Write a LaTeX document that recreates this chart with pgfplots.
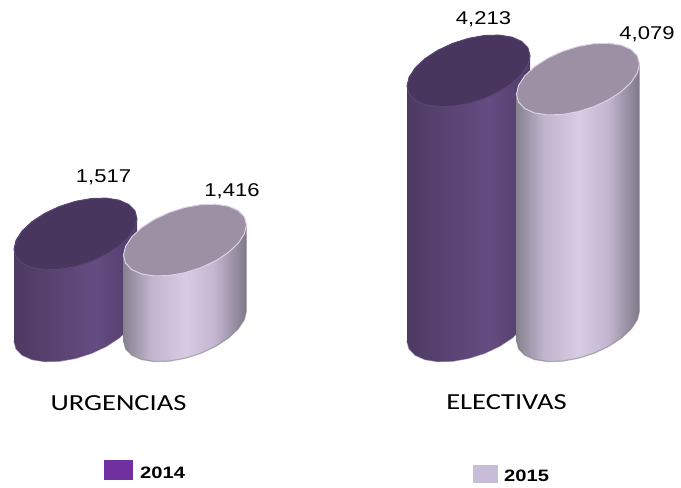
\documentclass[border=0pt]{standalone}
\usepackage{pgfplots}
\usepackage{pgfplotstable}
\usepackage{fontspec}
\pgfplotsset{compat=1.18}
\setmainfont{Liberation Sans}
\newfontfamily\vallab[FakeStretch=1.19]{Liberation Sans}
\newfontfamily\leglab[FakeStretch=1.22]{Liberation Sans}
\newfontfamily\catlab[FakeStretch=1.24]{Carlito}
\definecolor{leg14}{HTML}{7030A0}
\definecolor{leg15}{HTML}{C7BDD9}
\definecolor{cap14}{HTML}{48365E}
\definecolor{rim14}{HTML}{5B4676}
\definecolor{cap15}{HTML}{9C91A4}
\definecolor{rim15}{HTML}{DCD2E6}
\definecolor{pa}{HTML}{4D3A62}
\definecolor{pb}{HTML}{654C82}
\definecolor{pc}{HTML}{503C68}
\definecolor{la}{HTML}{87828F}
\definecolor{lb}{HTML}{C0B4CC}
\definecolor{lc}{HTML}{D8CBE4}
\definecolor{ld}{HTML}{C4B6D0}
\definecolor{le}{HTML}{7D7888}
\pgfdeclarehorizontalshading{bar14}{100bp}{
 color(0bp)=(pa); color(25bp)=(pa);
 color(58bp)=(pb);
 color(75bp)=(pc); color(100bp)=(pc)}
\pgfdeclarehorizontalshading{bar15}{100bp}{
 color(0bp)=(la); color(25bp)=(la);
 color(36bp)=(lb); color(50bp)=(lc);
 color(62bp)=(ld); color(75bp)=(le);
 color(100bp)=(le)}
\pgfplotstableread{
dx dy
61.5 15.21
59.40 23.14
53.26 29.49
43.49 33.83
30.75 35.86
15.92 35.45
0 32.63
-15.92 27.58
-30.75 20.65
-43.49 12.31
-53.26 3.14
-59.40 -6.25
-61.5 -15.21
-59.40 -23.14
-53.26 -29.49
-43.49 -33.83
-30.75 -35.86
-15.92 -35.45
0 -32.63
15.92 -27.58
30.75 -20.65
43.49 -12.31
53.26 -3.14
59.40 6.25
61.5 15.21
}\capshape
\pgfplotstableread{
dx dy h
61.5 15.21 1
59.40 23.14 1
53.26 29.49 1
43.49 33.83 1
30.75 35.86 1
15.92 35.45 1
0 32.63 1
-15.92 27.58 1
-30.75 20.65 1
-43.49 12.31 1
-53.26 3.14 1
-59.40 -6.25 1
-61.5 -15.21 1
-61.5 -15.21 0
-59.40 -23.14 0
-53.26 -29.49 0
-43.49 -33.83 0
-30.75 -35.86 0
-15.92 -35.45 0
0 -32.63 0
15.92 -27.58 0
30.75 -20.65 0
43.49 -12.31 0
53.26 -3.14 0
59.40 6.25 0
61.5 15.21 0
61.5 15.21 1
}\bodyshape
\newcommand\cyl[6]{%
 \addplot[draw=none,shading=#3,shading angle=0] table[x expr=\thisrow{dx}+#1,y expr=\thisrow{h}*#2+\thisrow{dy}*16.54]{\bodyshape};
 \addplot[draw=#4,line width=1.2pt,opacity=0.55] table[x expr=\thisrow{dx}+#1,y expr=\thisrow{h}*#2+\thisrow{dy}*16.54,restrict expr to domain={\thisrow{h}}{0:0}]{\bodyshape};
 \addplot[fill=#5,draw=#6,line width=1pt] table[x expr=\thisrow{dx}+#1,y expr=#2+\thisrow{dy}*16.54]{\capshape};
}
\begin{document}
\begin{tikzpicture}
\begin{axis}[
  scale only axis,width=681pt,height=487pt,
  xmin=0,xmax=681,ymin=-2668,ymax=5387,
  hide axis,clip=false,
  /pgf/number format/.cd,1000 sep={,},assume math mode=true,
]
\path (rel axis cs:0,0) rectangle (rel axis cs:1,1);
\cyl{75.5}{1517}{bar14}{rim14}{cap14}{rim14}
\cyl{185}{1416}{bar15}{gray}{cap15}{rim15}
\cyl{468.5}{4213}{bar14}{rim14}{cap14}{rim14}
\cyl{578}{4079}{bar15}{gray}{cap15}{rim15}
\addplot[draw=none,nodes near coords,nodes near coords style={font=\vallab\fontsize{18.5}{20}\selectfont,anchor=center,xshift=28pt,yshift=57pt}] coordinates {(75.5,1517)};
\addplot[draw=none,nodes near coords,nodes near coords style={font=\vallab\fontsize{18.5}{20}\selectfont,anchor=center,xshift=47pt,yshift=49pt}] coordinates {(185,1416)};
\addplot[draw=none,nodes near coords,nodes near coords style={font=\vallab\fontsize{18.5}{20}\selectfont,anchor=center,xshift=15pt,yshift=52pt}] coordinates {(468.5,4213)};
\addplot[draw=none,nodes near coords,nodes near coords style={font=\vallab\fontsize{18.5}{20}\selectfont,anchor=center,xshift=69pt,yshift=45pt}] coordinates {(578,4079)};
\node[font=\catlab\fontsize{23}{26}\selectfont] at (rel axis cs:118.5/681,1-403/487) {URGENCIAS};
\node[font=\catlab\fontsize{23}{26}\selectfont] at (rel axis cs:506.5/681,1-402/487) {ELECTIVAS};
\fill[leg14] (rel axis cs:104/681,1-460/487) rectangle (rel axis cs:133/681,1-480/487);
\fill[leg15] (rel axis cs:473/681,1-465/487) rectangle (rel axis cs:498/681,1-483/487);
\node[font=\leglab\bfseries\fontsize{16.5}{18}\selectfont,anchor=west,inner sep=0pt] at (rel axis cs:140/681,1-473/487) {2014};
\node[font=\leglab\bfseries\fontsize{16.5}{18}\selectfont,anchor=west,inner sep=0pt] at (rel axis cs:504/681,1-476/487) {2015};
\end{axis}
\end{tikzpicture}
\end{document}
